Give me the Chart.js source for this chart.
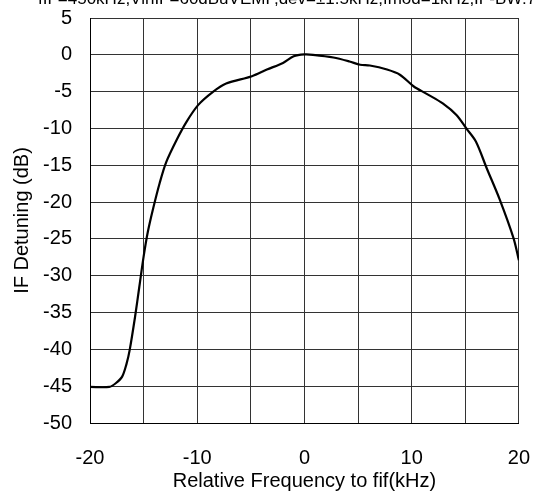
<!DOCTYPE html>
<html>
<head>
<meta charset="utf-8">
<script src="https://cdn.jsdelivr.net/npm/chart.js@4"></script>
<style>
  html, body { margin: 0; padding: 0; background: #fff; }
  #wrap { width: 533px; height: 496px; }
</style>
</head>
<body>
<div id="wrap"><canvas id="detuning-chart" width="533" height="496"></canvas></div>
<script>
// Relative frequency (kHz) and IF detuning (dB)
const freqKHz = [-20, -18.2, -17.6, -17.0, -16.6, -16.3, -15.8, -15.4, -15.0, -14.6, -14.1, -13.5, -12.9, -11.9, -11.0, -9.9, -8.5, -7.3, -4.9, -3.5, -2.0, -1.0, 0, 0.8, 2.7, 4.2, 5.2, 6.1, 7.7, 8.9, 10.2, 11.4, 12.9, 14.2, 15.1, 16.0, 17.0, 18.2, 19.5, 20];
const detuningDB = [-45.1, -45.1, -44.6, -43.7, -42.0, -40.1, -35.6, -31.5, -27.4, -24.0, -20.8, -17.4, -14.6, -11.5, -9.1, -6.8, -5.0, -3.9, -2.9, -2.0, -1.1, -0.2, 0.05, 0, -0.36, -0.9, -1.35, -1.45, -2.0, -2.7, -4.3, -5.3, -6.6, -8.2, -10.0, -11.8, -15.4, -19.6, -24.9, -27.9];
const xTickLabels = [-20, -10, 0, 10, 20];
const yTickLabels = [5, 0, -5, -10, -15, -20, -25, -30, -35, -40, -45, -50];
const conditionText = 'fIF=450kHz,VinIF=60dBuVEMF,dev=\u00b11.5kHz,fmod=1kHz,IF-BW:7.5kHz';

const FONT = 'Arial, "Liberation Sans", sans-serif';

// Condition line at the very top, partly cut off like the source image
const topNote = {
    id: 'topNote',
    afterDraw(chart) {
        const ctx = chart.ctx;
        ctx.save();
        ctx.font = '17px ' + FONT;
        ctx.fillStyle = '#000';
        ctx.textBaseline = 'alphabetic';
        ctx.textAlign = 'left';
        ctx.fillText(conditionText, 38, 4);
        ctx.restore();
    }
};

const points = freqKHz.map((f, i) => ({ x: f, y: detuningDB[i] }));

new Chart(document.getElementById('detuning-chart'), {
    type: 'line',
    data: {
        datasets: [{
            data: points,
            borderColor: '#000',
            borderWidth: 2.2,
            pointRadius: 0,
            tension: 0.3,
            fill: false
        }]
    },
    options: {
        responsive: false,
        animation: false,
        layout: { padding: { top: 18, right: 14, bottom: 0, left: 0 } },
        plugins: {
            legend: { display: false },
            tooltip: { enabled: false }
        },
        scales: {
            x: {
                type: 'linear',
                min: -20,
                max: 20,
                afterFit: s => { s.height = 73; },
                // long invisible tick marks push the labels down without
                // inflating the side padding the way ticks.padding does
                grid: { color: '#333', lineWidth: 1, tickLength: 20, tickColor: 'rgba(0,0,0,0)' },
                border: { color: '#000', width: 1 },
                ticks: {
                    stepSize: 5,
                    padding: 3,
                    color: '#000',
                    font: { family: FONT, size: 20 },
                    maxRotation: 0,
                    autoSkip: false,
                    callback: v => xTickLabels.includes(v) ? String(v) : ''
                },
                title: {
                    display: true,
                    text: 'Relative Frequency to fif(kHz)',
                    color: '#000',
                    font: { family: FONT, size: 20 },
                    padding: { top: 0, bottom: 3 }
                }
            },
            y: {
                min: -50,
                max: 5,
                afterFit: s => { s.width = 90; },
                grid: { color: '#333', lineWidth: 1, tickLength: 15, tickColor: 'rgba(0,0,0,0)' },
                border: { color: '#000', width: 1 },
                ticks: {
                    stepSize: 5,
                    padding: 3,
                    color: '#000',
                    font: { family: FONT, size: 20 },
                    autoSkip: false,
                    callback: v => yTickLabels.includes(v) ? String(v) : ''
                },
                title: {
                    display: true,
                    text: 'IF Detuning (dB)',
                    color: '#000',
                    font: { family: FONT, size: 20 },
                    padding: { top: 10, bottom: 0 }
                }
            }
        }
    },
    plugins: [topNote]
});
</script>
</body>
</html>
